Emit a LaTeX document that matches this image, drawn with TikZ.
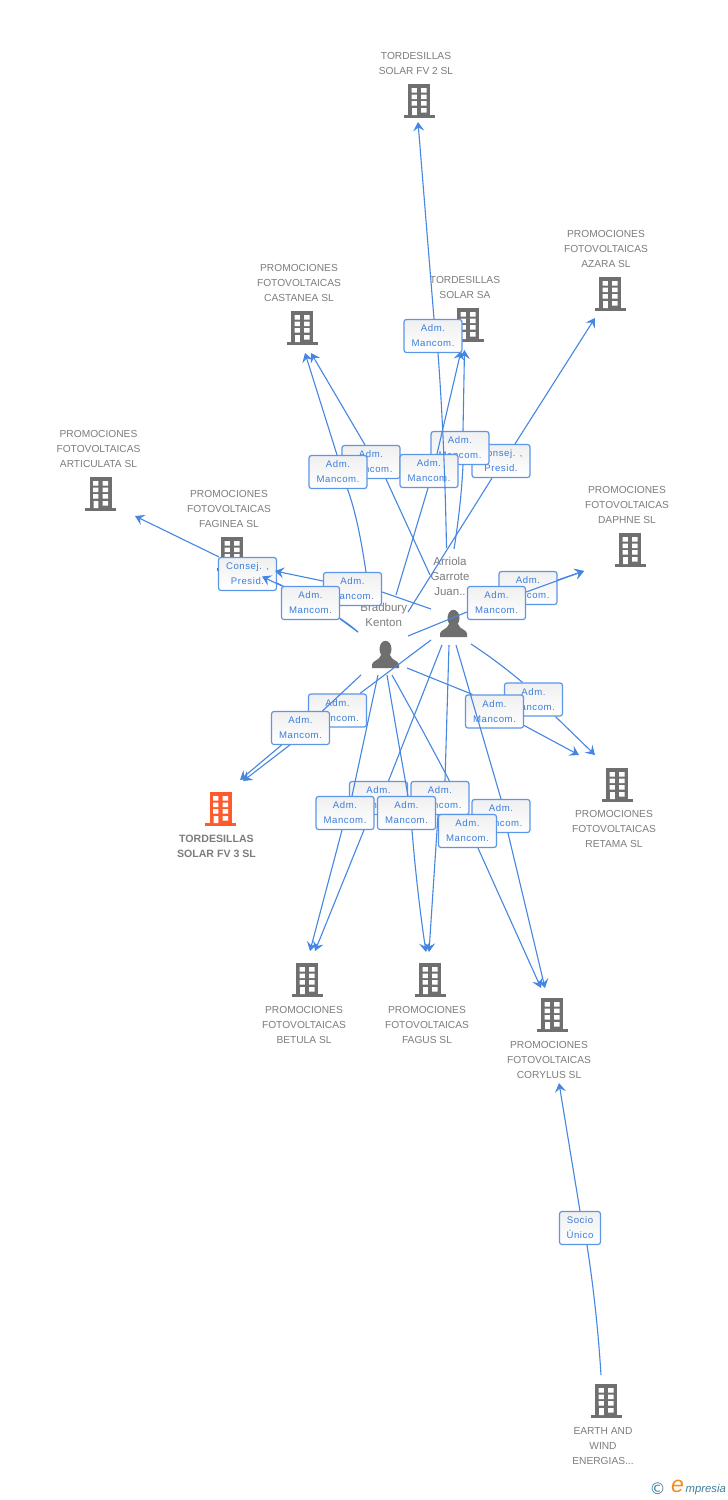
\documentclass[tikz,border=0pt]{standalone}
\usepackage{fontspec}
\setmainfont{Liberation Sans}
\newfontfamily\boxfont[LetterSpace=6]{Liberation Sans}
\newfontfamily\symfont{DejaVu Sans}
\usetikzlibrary{arrows.meta}
\pgfdeclarelayer{under}
\pgfsetlayers{under,main}
\definecolor{linkblue}{HTML}{4586E2}
\definecolor{boxedge}{HTML}{5C96E8}
\definecolor{boxtext}{HTML}{3A7EDC}
\definecolor{bldgray}{HTML}{6F6F6F}
\definecolor{txtgray}{HTML}{7D7D7D}
\definecolor{mainorange}{HTML}{FF5A2C}
\definecolor{logoteal}{HTML}{3F7F97}
\definecolor{logoorange}{HTML}{F28A1E}
\tikzset{
  link/.style={draw=linkblue,line width=1.1pt},
  arr/.style={link,-{Stealth[length=9pt,width=11pt,inset=3.5pt]}},
  orgbox/.style={draw=boxedge,line width=1.2pt,rounded corners=2.5pt,top color=black!6,bottom color=white,
    minimum width=58pt,minimum height=33pt,inner sep=0pt,align=center,text=boxtext,
    font=\boxfont\fontsize{9.6}{15}\selectfont},
  smallbox/.style={orgbox,minimum width=41pt},
  orglabel/.style={align=center,text=txtgray,inner sep=0pt,yshift=-0.8pt,font=\fontsize{10.2}{15}\selectfont},
  mainlabel/.style={orglabel,font=\bfseries\fontsize{10.6}{15}\selectfont},
  personlabel/.style={align=center,text=txtgray,inner sep=0pt,font=\fontsize{11.5}{15}\selectfont},
  pics/building/.style={code={
    \fill[#1] (-11,0) rectangle (11,31);
    \fill[#1] (-15.5,31) rectangle (15.5,33.5);
    \fill[white] (-7.5,4) rectangle (-2.2,8.5) (2.2,4) rectangle (7.5,8.5)
      (-7.5,10.5) rectangle (-2.2,15) (2.2,10.5) rectangle (7.5,15)
      (-7.5,17) rectangle (-2.2,21.5) (2.2,17) rectangle (7.5,21.5)
      (-7,24) rectangle (-2.2,31) (2.2,24) rectangle (7.5,28.5);
  }},
  pics/person/.style={code={
    \fill[bldgray] (0,8) ellipse [x radius=6,y radius=8.2];
    \fill[bldgray] (-13.5,27) -- (-13.5,23.5) .. controls (-13,19.5) and (-6,19.5) .. (-4.5,14)
      -- (4.5,14) .. controls (6,19.5) and (13,19.5) .. (13.5,23.5) -- (13.5,27) -- cycle;
  }},
}
\begin{document}
\begin{tikzpicture}[x=1pt,y=-1pt]
\useasboundingbox (0,0) rectangle (728,1500);
\begin{pgfonlayer}{under}
\fill[white] (0,0) rectangle (728,1500);
\end{pgfonlayer}

% buildings
\pic at (419,84) {building=bldgray};
\pic at (610,277) {building=bldgray};
\pic at (468,308) {building=bldgray};
\pic at (302,311) {building=bldgray};
\pic at (100.5,477) {building=bldgray};
\pic at (232,537) {building=bldgray};
\pic at (630,533) {building=bldgray};
\pic at (617,768) {building=bldgray};
\pic at (220.5,792) {building=mainorange};
\pic at (307,963) {building=bldgray};
\pic at (430,963) {building=bldgray};
\pic at (552,998) {building=bldgray};
\pic at (606,1384) {building=bldgray};

% company labels
\node[orglabel] (lFV2) at (416,62.5) {TORDESILLAS\\SOLAR FV 2 SL};
\node[orglabel] (lAZ) at (606,248) {PROMOCIONES\\FOTOVOLTAICAS\\AZARA SL};
\node[orglabel] (lSA) at (465,286.5) {TORDESILLAS\\SOLAR SA};
\node[orglabel] (lCA) at (299,282) {PROMOCIONES\\FOTOVOLTAICAS\\CASTANEA SL};
\node[orglabel] (lAR) at (98.5,448) {PROMOCIONES\\FOTOVOLTAICAS\\ARTICULATA SL};
\node[orglabel] (lFA) at (229,508) {PROMOCIONES\\FOTOVOLTAICAS\\FAGINEA SL};
\node[orglabel] (lDA) at (627,504) {PROMOCIONES\\FOTOVOLTAICAS\\DAPHNE SL};
\node[orglabel] (lRE) at (614,828) {PROMOCIONES\\FOTOVOLTAICAS\\RETAMA SL};
\node[mainlabel] (lV3) at (216.5,845.5) {TORDESILLAS\\SOLAR FV 3 SL};
\node[orglabel] (lBE) at (304,1024) {PROMOCIONES\\FOTOVOLTAICAS\\BETULA SL};
\node[orglabel] (lFG) at (427,1024) {PROMOCIONES\\FOTOVOLTAICAS\\FAGUS SL};
\node[orglabel] (lCO) at (549,1059) {PROMOCIONES\\FOTOVOLTAICAS\\CORYLUS SL};
\node[orglabel] (lEA) at (603,1445) {EARTH AND\\WIND\\ENERGIAS...};

% persons
\pic at (453.5,610) {person};
\pic at (385.5,641) {person};
\node[personlabel] (pA) at (450,576) {Arriola\\Garrote\\Juan..};
\node[personlabel] (pB) at (383.7,614.5) {Bradbury\\Kenton};

% free ends of connectors
\coordinate (sA1) at (446.5,548); \coordinate (eFV2) at (418,122);
\coordinate (sA2) at (454,549);   \coordinate (eSA1) at (464.5,350);
\coordinate (sB2) at (396,595);   \coordinate (eSA2) at (461,351);
\coordinate (sB3) at (408,612);   \coordinate (eAZ) at (595,318);
\coordinate (sA3) at (430,575);   \coordinate (eCA1) at (311,353);
\coordinate (sB4) at (370,600);   \coordinate (eCA2) at (305,353);
\coordinate (sA4) at (431,609);   \coordinate (eFA1) at (275,571);
\coordinate (sB5) at (358,632);   \coordinate (eFA2) at (262,576.5);
\coordinate (eAR) at (135,516);
\coordinate (sA5) at (470,612);   \coordinate (eDA) at (584,571);
\coordinate (sB6) at (408,636);
\coordinate (sA6) at (471,644);   \coordinate (eRE1) at (595,755);
\coordinate (sB7) at (407,668);   \coordinate (eRE2) at (579,755);
\coordinate (sA7) at (431,640);   \coordinate (eV31) at (243,781);
\coordinate (sB8) at (361,675);   \coordinate (eV32) at (240,780);
\coordinate (sA8) at (442,645);   \coordinate (eBE1) at (315,951);
\coordinate (sB9) at (378,675);   \coordinate (eBE2) at (310,951);
\coordinate (sA9) at (449,645);   \coordinate (eFG1) at (429,952);
\coordinate (sB10) at (387,675);  \coordinate (eFG2) at (426,952);
\coordinate (sA10) at (456,645);  \coordinate (eCO1) at (545,988);
\coordinate (sB11) at (392,675);  \coordinate (eCO2) at (541,988);
\coordinate (sE) at (601,1375);   \coordinate (eCO3) at (559,1083);

% Articulata
\node[orgbox] (bAR) at (247.5,574) {Consej. ,\\Presid.};
\begin{pgfonlayer}{under}
\draw[link] (sB5) .. controls (340,616) and (310,600) .. ([yshift=-9pt]bAR.east);
\end{pgfonlayer}
\draw[arr] ([xshift=1pt]bAR.north west) -- (eAR);

% Castanea
\node[orgbox] (bCA) at (371,462) {Adm.\\Mancom.};
\draw[link] (sA3) -- ([xshift=15pt]bCA.south);
\draw[arr] ([xshift=-6pt]bCA.north) -- (eCA1);
\node[orgbox] (bCB) at (338,472) {Adm.\\Mancom.};
\begin{pgfonlayer}{under}
\draw[link] (sB4) .. controls (364,556.7) and (358.5,519.7) .. ([xshift=9.5pt]bCB.south);
\end{pgfonlayer}
\draw[arr] ([xshift=-1pt]bCB.north) -- (eCA2);

% Faginea
\node[orgbox] (bFA) at (352.5,589) {Adm.\\Mancom.};
\draw[link] (sA4) -- ([yshift=-3pt]bFA.east);
\draw[arr] ([yshift=8pt]bFA.west) -- (eFA1);
\node[orgbox] (bFB) at (310.5,603) {Adm.\\Mancom.};
\draw[link] (sB5) -- ([yshift=-16pt]bFB.east);
\draw[arr] ([yshift=17pt,xshift=1pt]bFB.west) -- (eFA2);

% Azara
\node[orgbox] (bAZ) at (501,461) {Consej. ,\\Presid.};
\draw[link] (sB3) -- ([xshift=-9pt]bAZ.south);
\draw[arr] ([xshift=14pt]bAZ.north) -- (eAZ);

% Solar SA
\node[orgbox] (bSA1) at (460,448) {Adm.\\Mancom.};
\draw[link] (sA2) .. controls (458.7,519.7) and (461.7,491.7) .. ([xshift=3pt]bSA1.south);
\draw[arr] ([xshift=3pt]bSA1.north) -- (eSA1);
\node[orgbox] (bSA2) at (429,471) {Adm.\\Mancom.};
\draw[link] (sB2) -- ([xshift=-1pt]bSA2.south);
\draw[arr] ([xshift=8pt]bSA2.north) -- (eSA2);

% FV 2
\node[orgbox] (bFV2) at (433,336) {Adm.\\Mancom.};
\draw[link] (sA1) .. controls (445.2,476) and (442.3,411) .. ([xshift=5pt]bFV2.south);
\draw[arr] ([xshift=1pt]bFV2.north) -- (eFV2);

% Daphne
\node[orgbox] (bDA) at (528,588) {Adm.\\Mancom.};
\begin{pgfonlayer}{under}
\draw[link] (sA5) -- (bDA.west);
\end{pgfonlayer}
\draw[arr] ([yshift=8pt]bDA.east) -- (eDA);
\node[orgbox] (bDB) at (496.5,603) {Adm.\\Mancom.};
\draw[link] (sB6) -- ([yshift=-9pt]bDB.west);
\draw[arr] ([yshift=11pt]bDB.east) -- (eDA);

% Retama
\node[orgbox] (bRA) at (533.5,699.5) {Adm.\\Mancom.};
\draw[link] (sA6) .. controls (488.3,655.3) and (505.3,668) .. ([xshift=-11pt]bRA.north);
\draw[arr] ([xshift=22pt]bRA.south) -- (eRE1);
\node[orgbox] (bRB) at (494.5,711.5) {Adm.\\Mancom.};
\draw[link] (sB7) -- ([xshift=-22pt]bRB.north);
\draw[arr] ([yshift=-14pt]bRB.east) -- (eRE2);

% FV 3
\node[orgbox] (bVA) at (337.5,710.5) {Adm.\\Mancom.};
\draw[link] (sA7) -- ([xshift=22.5pt]bVA.north);
\begin{pgfonlayer}{under}
\draw[arr] ([xshift=-25pt]bVA.south) -- (eV31);
\end{pgfonlayer}
\node[orgbox] (bVB) at (300.5,728) {Adm.\\Mancom.};
\draw[link] (sB8) -- ([xshift=22pt]bVB.north);
\draw[arr] ([xshift=-19pt]bVB.south) -- (eV32);

% Betula
\node[orgbox] (bBA) at (378.5,798) {Adm.\\Mancom.};
\draw[link] (sA8) -- ([xshift=10pt]bBA.north);
\begin{pgfonlayer}{under}
\draw[arr] ([xshift=-8.5pt]bBA.south) -- (eBE1);
\end{pgfonlayer}
\node[orgbox] (bBB) at (345,813) {Adm.\\Mancom.};
\draw[link] (sB9) -- ([xshift=7pt]bBB.north);
\draw[arr] ([xshift=-3pt]bBB.south) -- (eBE2);

% Corylus, Fagus
\node[orgbox] (bCA2) at (501,816) {Adm.\\Mancom.};
\draw[link] (sA10) -- (bCA2.north);
\draw[arr] ([xshift=7pt]bCA2.south) -- (eCO1);
\node[orgbox] (bGA) at (440,798) {Adm.\\Mancom.};
\draw[link] (sA9) -- ([xshift=5pt]bGA.north);
\draw[arr] ([xshift=-2pt]bGA.south) -- (eFG1);
\node[orgbox] (bGB) at (406.5,813) {Adm.\\Mancom.};
\draw[link] (sB10) .. controls (393.7,715) and (400.7,755) .. ([xshift=1.5pt]bGB.north);
\draw[arr] ([xshift=5.5pt]bGB.south) .. controls (415.3,871) and (420,912) .. (eFG2);
\node[orgbox] (bCB2) at (467.5,831) {Adm.\\Mancom.};
\begin{pgfonlayer}{under}
\draw[link] (sB11) .. controls (416,718) and (441,764) .. ([xshift=-1pt]bCB2.north);
\end{pgfonlayer}
\draw[arr] ([xshift=10.5pt]bCB2.south) -- (eCO2);

% Earth and Wind
\node[smallbox] (bSU) at (580,1228) {Socio\\Único};
\draw[link] (sE) .. controls (598.3,1331.7) and (593.7,1288.3) .. ([xshift=7pt]bSU.south);
\draw[arr] (bSU.north) -- (eCO3);

% logo
\node[text=logoteal,inner sep=0pt,font=\symfont\fontsize{16}{16}\selectfont] (logoC) at (657.5,1489) {©};
\node[text=logoorange,inner sep=0pt,font=\fontsize{23}{23}\selectfont\itshape] (logoE) at (677.5,1486.5) {e};
\node[text=logoteal,inner sep=0pt,anchor=west,font=\fontsize{11.3}{13}\selectfont\itshape] (logoT) at (685.5,1490) {mpresia};
\end{tikzpicture}
\end{document}
